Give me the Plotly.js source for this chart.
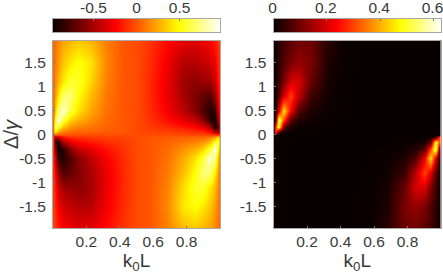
<!DOCTYPE html>
<html><head><meta charset="utf-8">
<script src="https://cdn.plot.ly/plotly-3.0.1.min.js"></script>
<style>html,body{margin:0;padding:0;background:#fff}</style></head>
<body><div id="c" style="width:443px;height:275px"></div>
<script>
const k0L=[0,.01,.03,.06,.1,.15,.22,.32,.42,.5,.58,.68,.78,.85,.9,.94,.97,.99,1];
const detuning=[1.95,1.5,1.1,.8,.5,.3,.15,.05,0,-.05,-.15,-.3,-.5,-.8,-1.1,-1.5,-1.95];
const leftZ=[
[.05,.08,.14,.22,.28,.33,.29,.12,0,-.03,-.1,-.22,-.32,-.33,-.3,-.25,-.17,-.09,-.05],
[.05,.1,.2,.32,.42,.5,.42,.14,0,-.03,-.12,-.28,-.46,-.47,-.42,-.38,-.27,-.13,-.06],
[.06,.14,.28,.42,.58,.56,.38,.12,0,-.03,-.13,-.3,-.52,-.58,-.55,-.53,-.38,-.18,-.07],
[.07,.18,.42,.7,.72,.5,.3,.1,0,-.03,-.13,-.3,-.5,-.62,-.7,-.76,-.55,-.25,-.08],
[.08,.3,.72,.88,.6,.4,.24,.08,0,-.03,-.12,-.26,-.44,-.6,-.76,-.9,-.82,-.4,-.1],
[.08,.5,.93,.6,.36,.26,.17,.06,0,-.03,-.1,-.2,-.32,-.42,-.6,-.86,-.95,-.55,-.1],
[.08,.7,.55,.3,.18,.13,.09,.04,0,-.03,-.08,-.12,-.18,-.24,-.32,-.5,-.9,-.8,-.08],
[.05,.4,.2,.1,.06,.04,.03,.01,0,-.03,-.05,-.06,-.08,-.1,-.12,-.2,-.45,-.55,-.05],
[-.03,-.03,-.03,-.03,-.03,-.03,-.03,-.03,-.03,-.03,-.03,-.03,-.03,-.03,-.03,-.03,-.03,-.03,-.03],
[-.05,-.55,-.45,-.2,-.12,-.1,-.08,-.06,-.05,-.03,0,.01,.03,.04,.06,.1,.2,.4,.05],
[-.08,-.8,-.9,-.5,-.32,-.24,-.18,-.12,-.08,-.03,0,.04,.09,.13,.18,.3,.55,.7,.08],
[-.1,-.55,-.95,-.86,-.6,-.42,-.32,-.2,-.1,-.03,0,.06,.17,.26,.36,.6,.93,.5,.08],
[-.1,-.4,-.82,-.9,-.76,-.6,-.44,-.26,-.12,-.03,0,.08,.24,.4,.6,.88,.72,.3,.08],
[-.08,-.25,-.55,-.76,-.7,-.62,-.5,-.3,-.13,-.03,0,.1,.3,.5,.72,.7,.42,.18,.07],
[-.07,-.18,-.38,-.53,-.55,-.58,-.52,-.3,-.13,-.03,0,.12,.38,.56,.58,.42,.28,.14,.06],
[-.06,-.13,-.27,-.38,-.42,-.47,-.46,-.28,-.12,-.03,0,.14,.42,.5,.42,.32,.2,.1,.05],
[-.05,-.09,-.17,-.25,-.3,-.33,-.32,-.22,-.1,-.03,0,.12,.29,.33,.28,.22,.14,.08,.05]
];
const rightZ=[
[0,.01,.03,.055,.08,.1,.095,.03,.003,0,0,0,0,0,0,0,0,0,0],
[0,.01,.035,.07,.11,.135,.11,.02,.003,0,0,0,0,0,0,0,0,0,0],
[0,.012,.05,.11,.2,.2,.09,.015,.001,0,0,0,0,0,0,0,0,0,0],
[0,.015,.07,.2,.3,.17,.05,.008,.001,0,0,0,0,0,0,0,0,0,0],
[0,.03,.2,.45,.22,.07,.02,.004,0,0,0,0,0,0,0,0,0,0,0],
[0,.08,.55,.3,.07,.025,.008,.002,0,0,0,0,0,0,0,0,0,0,0],
[0,.3,.5,.08,.02,.006,.002,0,0,0,0,0,0,0,0,0,0,0,0],
[0,.3,.05,.008,.002,0,0,0,0,0,0,0,0,0,0,0,.002,.02,0],
[0,0,0,0,0,0,0,0,0,0,0,0,0,0,0,0,0,0,0],
[0,.02,.002,0,0,0,0,0,0,0,0,0,0,0,.002,.008,.05,.3,0],
[0,0,0,0,0,0,0,0,0,0,0,0,.002,.006,.02,.08,.5,.3,0],
[0,0,0,0,0,0,0,0,0,0,0,.002,.008,.025,.07,.3,.55,.08,0],
[0,0,0,0,0,0,0,0,0,0,0,.004,.02,.07,.22,.45,.2,.03,0],
[0,0,0,0,0,0,0,0,0,0,.001,.008,.05,.17,.3,.2,.07,.015,0],
[0,0,0,0,0,0,0,0,0,0,.001,.015,.09,.2,.2,.11,.05,.012,0],
[0,0,0,0,0,0,0,0,0,0,.003,.02,.11,.135,.11,.07,.035,.01,0],
[0,0,0,0,0,0,0,0,0,0,.003,.03,.095,.1,.08,.055,.03,.01,0]
];
const xTickVals=[.2,.4,.6,.8];
const xTickText=['0.2','0.4','0.6','0.8'];
const yTickVals=[1.5,1,.5,0,-.5,-1,-1.5];
const yTickText=['1.5','1','0.5','0','-0.5','-1','-1.5'];
const leftRange=[-.97,.97], rightRange=[0,.628];
const leftBarVals=[-.5,0,.5], leftBarText=['-0.5','0','0.5'];
const rightBarVals=[0,.2,.4,.6], rightBarText=['0','0.2','0.4','0.6'];
const barY=[0,1];
const hot=[[0,'rgb(8,0,0)'],[.375,'rgb(255,0,0)'],[.75,'rgb(255,255,0)'],[1,'rgb(255,255,255)']];
const W=443,H=275,ink='#3a3a3a',edge='#a8a8a8';
const hm=(x,y,z,xa,ya,r)=>({type:'heatmap',x:x,y:y,z:z,xaxis:xa,yaxis:ya,zsmooth:'best',colorscale:hot,zmin:r[0],zmax:r[1],showscale:false,hoverinfo:'skip'});
const data=[
 hm(k0L,detuning,leftZ,'x','y',leftRange),
 hm(k0L,detuning,rightZ,'x2','y2',rightRange),
 hm(leftRange,barY,[leftRange,leftRange],'x3','y3',leftRange),
 hm(rightRange,barY,[rightRange,rightRange],'x4','y4',rightRange)
];
const common={ticks:'inside',ticklen:2,tickcolor:'#777',showgrid:false,zeroline:false,showline:true,linecolor:edge,linewidth:1,mirror:true,tickfont:{size:15.5,color:ink},tickmode:'array',ticklabeloverflow:'allow'};
const xa=(d,anchor)=>({...common,domain:d,anchor:anchor,range:[0,1],tickvals:xTickVals,ticktext:xTickText,ticklabelstandoff:-1,
  title:{text:'k<sub>0</sub>L',font:{size:19,color:ink},standoff:0}});
const ya=(anchor,title)=>({...common,domain:[(H-228)/H,(H-41)/H],anchor:anchor,range:[-1.95,1.95],tickvals:yTickVals,ticktext:yTickText,ticklabelstandoff:3,
  title:title?{text:title,font:{size:20,color:ink},standoff:3}:undefined});
const bx=(d,anchor,r,v,t,shift)=>({...common,domain:d,anchor:anchor,side:'top',range:r,tickvals:v,ticktext:t,ticklabelstandoff:-1,ticklabelshift:shift});
const by=(anchor)=>({domain:[(H-32)/H,(H-19)/H],anchor:anchor,range:[0,1],showticklabels:false,ticks:'',showgrid:false,zeroline:false,showline:true,linecolor:edge,linewidth:1,mirror:true});
const dL=[53/W,220/W],dR=[273.5/W,441/W];
const layout={width:W,height:H,margin:{l:0,r:0,t:0,b:0},paper_bgcolor:'#fff',plot_bgcolor:'#fff',showlegend:false,
 font:{family:'Liberation Sans',color:ink},
 xaxis:xa(dL,'y'),yaxis:ya('x','Δ/<i>γ</i>'),
 xaxis2:xa(dR,'y2'),yaxis2:ya('x2'),
 xaxis3:bx(dL,'y3',leftRange,leftBarVals,leftBarText,0),yaxis3:by('x3'),
 xaxis4:bx(dR,'y4',rightRange,rightBarVals,rightBarText,-1),yaxis4:by('x4')};
Plotly.newPlot('c',data,layout,{displayModeBar:false,staticPlot:true});
</script></body></html>
